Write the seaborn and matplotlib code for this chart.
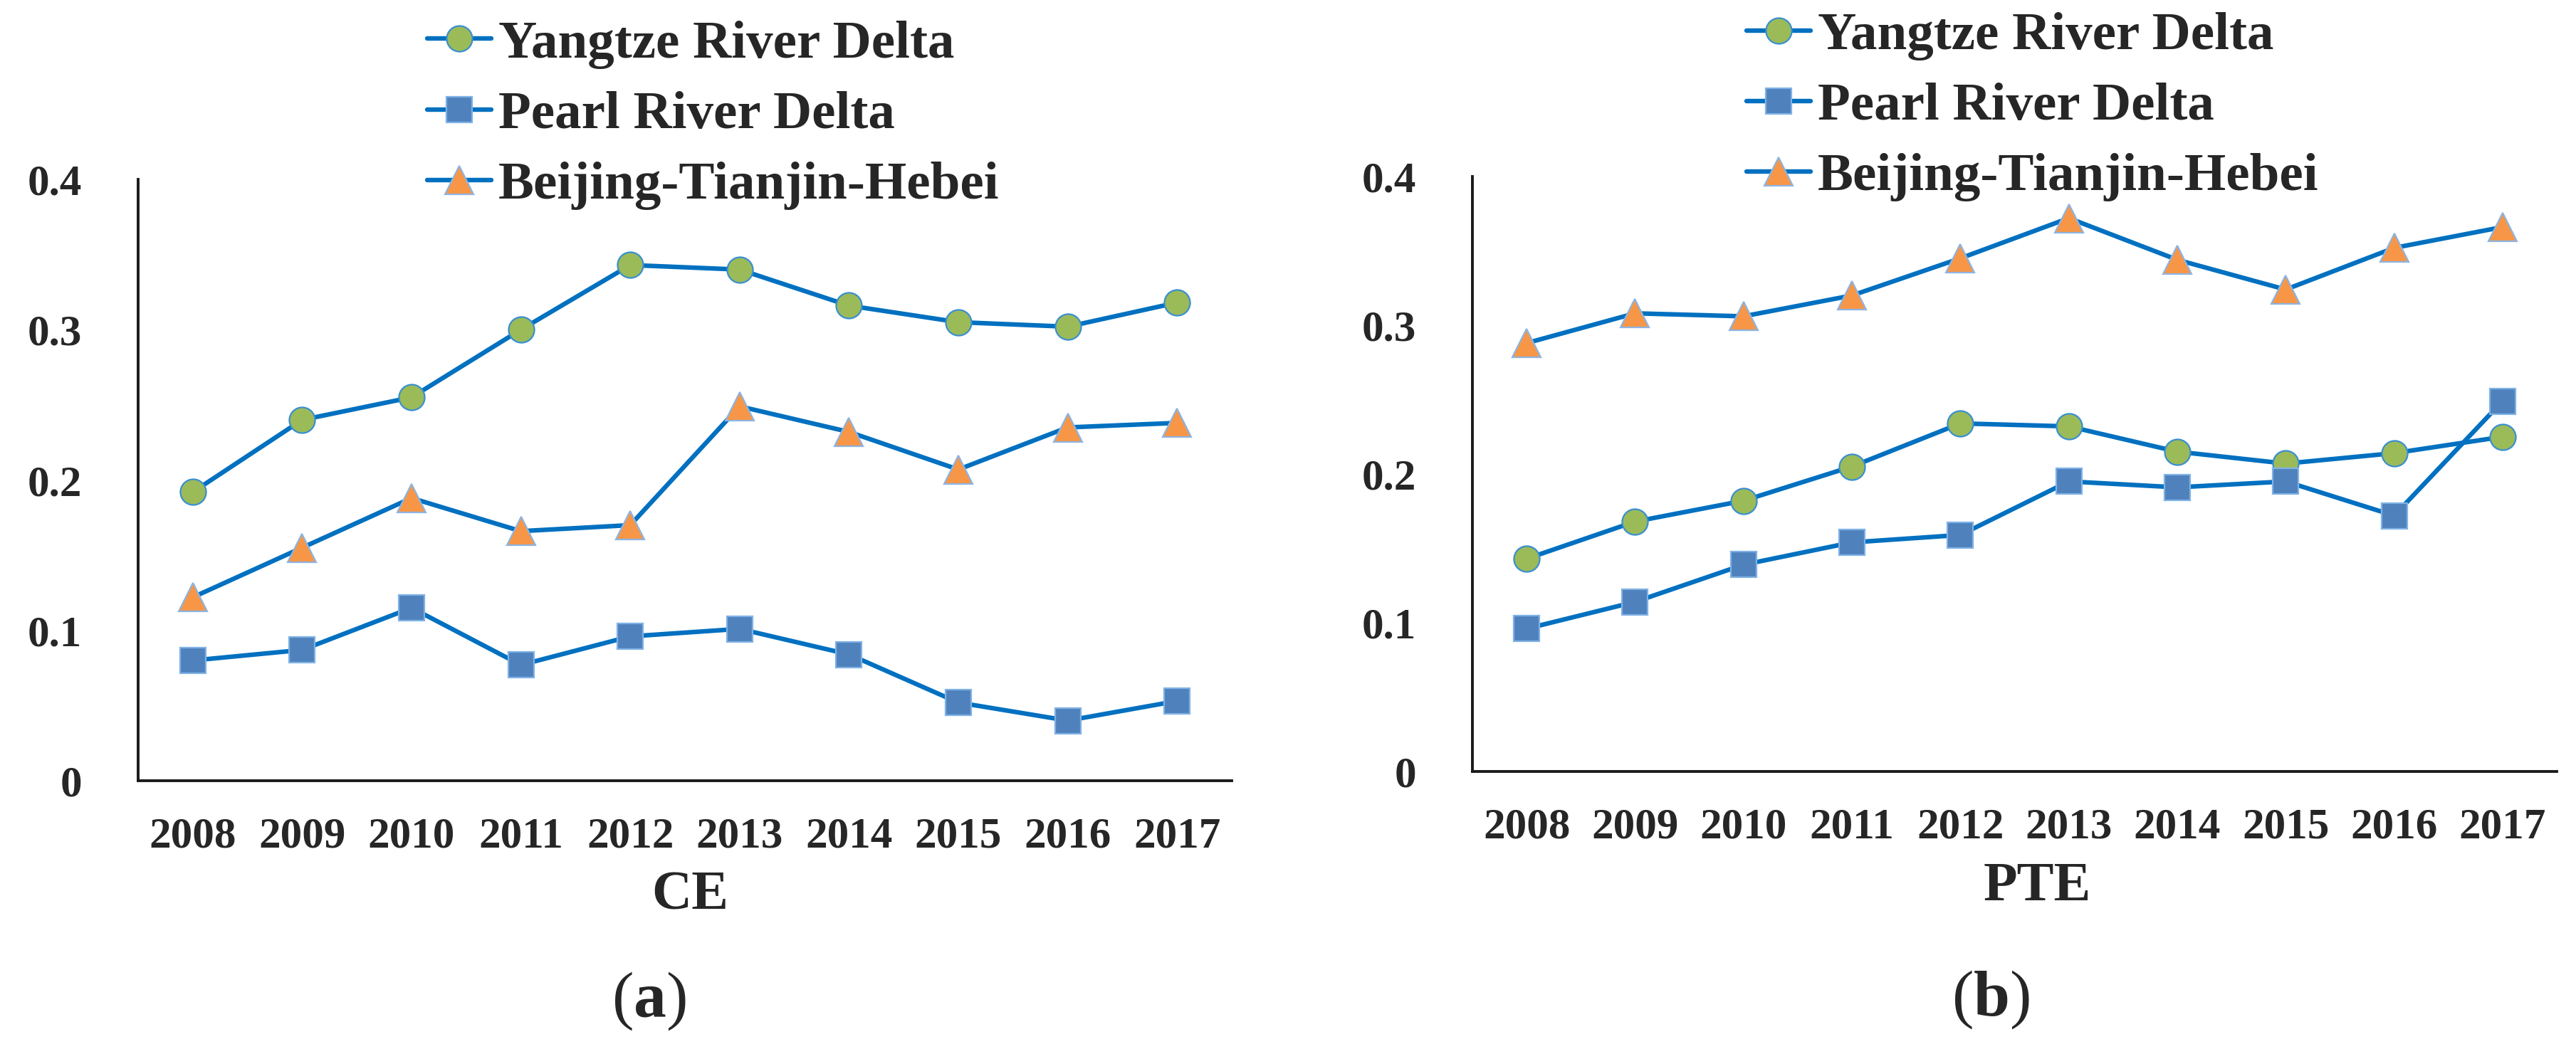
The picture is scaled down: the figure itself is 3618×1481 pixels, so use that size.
import pandas as pd
import numpy as np
import matplotlib
matplotlib.use("Agg")
import matplotlib.pyplot as plt
import seaborn as sns
from matplotlib.ticker import FixedLocator

years = [2008, 2009, 2010, 2011, 2012, 2013, 2014, 2015, 2016, 2017]
regions = ["Yangtze River Delta", "Pearl River Delta", "Beijing-Tianjin-Hebei"]

# panel (a) CE
ce_yangtze = [0.192, 0.240, 0.255, 0.300, 0.343, 0.340, 0.316, 0.305, 0.302, 0.318]
ce_pearl = [0.080, 0.087, 0.115, 0.077, 0.096, 0.101, 0.084, 0.052, 0.040, 0.053]
ce_bth = [0.122, 0.155, 0.188, 0.166, 0.170, 0.249, 0.232, 0.207, 0.235, 0.238]

# panel (b) PTE
pte_yangtze = [0.143, 0.168, 0.182, 0.205, 0.234, 0.232, 0.215, 0.207, 0.214, 0.225]
pte_pearl = [0.096, 0.114, 0.139, 0.154, 0.159, 0.195, 0.191, 0.195, 0.172, 0.249]
pte_bth = [0.288, 0.308, 0.306, 0.320, 0.345, 0.372, 0.344, 0.324, 0.352, 0.366]

ytick_vals = [0, 0.1, 0.2, 0.3, 0.4]
ytick_labels = ["0", "0.1", "0.2", "0.3", "0.4"]


def make_frame(a, b, c):
    rows = []
    for name, vals in zip(regions, [a, b, c]):
        for yr, v in zip(years, vals):
            rows.append({"year": yr, "value": v, "region": name})
    return pd.DataFrame(rows)


df_ce = make_frame(ce_yangtze, ce_pearl, ce_bth)
df_pte = make_frame(pte_yangtze, pte_pearl, pte_bth)

sns.set_style("white")
plt.rcParams["font.family"] = ["Liberation Serif", "DejaVu Serif"]
plt.rcParams["font.weight"] = "bold"
plt.rcParams["mathtext.fontset"] = "custom"
plt.rcParams["mathtext.rm"] = "Liberation Serif"
plt.rcParams["mathtext.bf"] = "Liberation Serif:bold"

line_blue = "#0070C0"
marker_style = {
    "Yangtze River Delta": dict(marker="o", markerfacecolor="#9BBB59", markeredgecolor="#3A8FD0", markersize=26),
    "Pearl River Delta": dict(marker="s", markerfacecolor="#4F81BD", markeredgecolor="#7FB2E5", markersize=26),
    "Beijing-Tianjin-Hebei": dict(marker="^", markerfacecolor="#F79646", markeredgecolor="#8DB4E2", markersize=29),
}

fig = plt.figure(figsize=(36.18, 14.81), dpi=100)
ax_a = fig.add_axes([0.05362, 0.25928, 0.42454, 0.57056])
ax_b = fig.add_axes([0.57159, 0.26806, 0.42095, 0.56449])

for ax, df, xlabel, xl_x in [(ax_a, df_ce, "CE", 0.505), (ax_b, df_pte, "PTE", 0.521)]:
    for name in regions:
        sub = df[df["region"] == name]
        sns.lineplot(data=sub, x="year", y="value", ax=ax, color=line_blue,
                     linewidth=4.6, errorbar=None, legend=False, label=name,
                     markeredgewidth=1.6, **marker_style[name])
    ax.set_xlim(2007.5, 2017.5)
    ax.set_ylim(0, 0.4)
    ax.xaxis.set_major_locator(FixedLocator(years))
    ax.xaxis.set_minor_locator(FixedLocator([y + 0.5 for y in [2007] + years]))
    ax.set_xticklabels([str(y) for y in years])
    ax.set_yticks(ytick_vals)
    ax.set_yticklabels(ytick_labels)
    ax.tick_params(axis="x", which="major", length=0, pad=36, labelsize=44)
    ax.tick_params(axis="x", which="minor", direction="in", length=16, width=2.6, color="#1a1a1a")
    ax.tick_params(axis="y", direction="in", length=15, width=2.6, color="#1a1a1a", pad=57, labelsize=44)
    for side in ["top", "right"]:
        ax.spines[side].set_visible(False)
    for side in ["left", "bottom"]:
        ax.spines[side].set_linewidth(2.8)
        ax.spines[side].set_color("#1a1a1a")
    ax.set_xlabel(xlabel, fontsize=56, fontweight="bold", labelpad=15)
    ax.xaxis.label.set_x(xl_x)
    ax.set_ylabel("")

leg_pos = [(ax_a, 0.1658, 0.981), (ax_b, 0.6780, 0.989)]
for ax, lx, ly in leg_pos:
    handles, labels = ax.get_legend_handles_labels()
    ax.legend(handles, labels, loc="upper left", bbox_to_anchor=(lx, ly),
              bbox_transform=fig.transFigure, frameon=False, fontsize=54,
              handlelength=1.2, handletextpad=0.13, labelspacing=0.41,
              borderpad=0, borderaxespad=0, numpoints=1)

fig.text(0.2518, 0.0500, r"($\mathbf{a}$)", ha="center", va="center", fontsize=66, fontweight="normal")
fig.text(0.7728, 0.0513, r"($\mathbf{b}$)", ha="center", va="center", fontsize=66, fontweight="normal")

fig.savefig("out.png", dpi=100, facecolor="white")
